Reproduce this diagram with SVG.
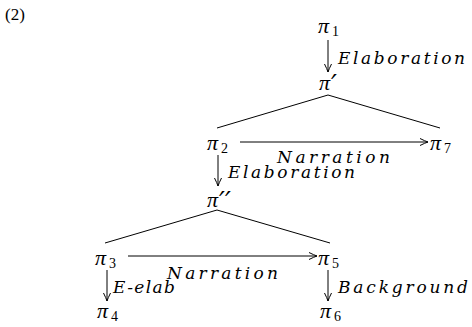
<svg xmlns="http://www.w3.org/2000/svg" width="472" height="327" viewBox="0 0 472 327">
<defs>
<marker id="ah" viewBox="0 0 10 10" refX="9" refY="5" markerWidth="10" markerHeight="10" markerUnits="userSpaceOnUse" orient="auto">
<path d="M1,1.5 Q6,4 9,5 Q6,6 1,8.5" fill="none" stroke="#000" stroke-width="1"/>
</marker>
</defs>
<style>
.pi{font-family:"Liberation Serif",serif;font-size:22px;font-style:italic;fill:#000}
.sub{font-family:"Liberation Serif",serif;font-size:14px;fill:#000}
.pr{font-family:"DejaVu Sans",sans-serif;font-size:26px;font-style:italic;fill:#000}
.lbl{font-family:"DejaVu Serif",serif;font-size:17px;font-style:italic;fill:#000}
.num{font-family:"Liberation Serif",serif;font-size:17px;fill:#000}
.e{stroke:#000;stroke-width:1;fill:none}
.a{stroke:#000;stroke-width:1;fill:none;marker-end:url(#ah)}
</style>
<rect width="472" height="327" fill="#fff"/>
<text class="num" x="5" y="20">(2)</text>
<g id="connectors">
<line class="a" x1="328" y1="40" x2="328" y2="72"/>
<line class="e" x1="328" y1="95" x2="217" y2="128"/>
<line class="e" x1="328" y1="95" x2="440" y2="128"/>
<line class="a" x1="240" y1="142" x2="428" y2="142"/>
<line class="a" x1="218" y1="155" x2="218" y2="186"/>
<line class="e" x1="217" y1="210" x2="105" y2="243"/>
<line class="e" x1="217" y1="210" x2="330" y2="243"/>
<line class="a" x1="128" y1="256" x2="317" y2="256"/>
<line class="a" x1="107" y1="270" x2="107" y2="301"/>
<line class="a" x1="328" y1="270" x2="328" y2="301"/>
<text class="lbl" x="338" y="64" textLength="127" lengthAdjust="spacing">Elaboration</text>
<text class="lbl" x="277" y="163" textLength="113" lengthAdjust="spacing">Narration</text>
<text class="lbl" x="228" y="178" textLength="127" lengthAdjust="spacing">Elaboration</text>
<text class="lbl" x="167" y="279" textLength="111" lengthAdjust="spacing">Narration</text>
<text class="lbl" x="113" y="293" textLength="62" lengthAdjust="spacing">E-elab</text>
<text class="lbl" x="338" y="293" textLength="130" lengthAdjust="spacing">Background</text>
</g>
<g id="pi1"><text class="pi" x="318" y="33">π</text><text class="sub" x="332" y="36">1</text></g>
<g id="piprime"><text class="pi" x="319" y="90">π</text><text class="pr" x="331" y="94">′</text></g>
<g id="pidprime"><text class="pi" x="207" y="207">π</text><text class="pr" x="219" y="211">′′</text></g>
<g id="pi2"><text class="pi" x="207" y="150">π</text><text class="sub" x="221" y="153">2</text></g>
<g id="pi7"><text class="pi" x="430" y="150">π</text><text class="sub" x="444" y="153">7</text></g>
<g id="pi3"><text class="pi" x="95" y="265">π</text><text class="sub" x="109" y="268">3</text></g>
<g id="pi5"><text class="pi" x="318" y="265">π</text><text class="sub" x="332" y="268">5</text></g>
<g id="pi4"><text class="pi" x="97" y="318">π</text><text class="sub" x="111" y="321">4</text></g>
<g id="pi6"><text class="pi" x="320" y="318">π</text><text class="sub" x="334" y="321">6</text></g>
</svg>
